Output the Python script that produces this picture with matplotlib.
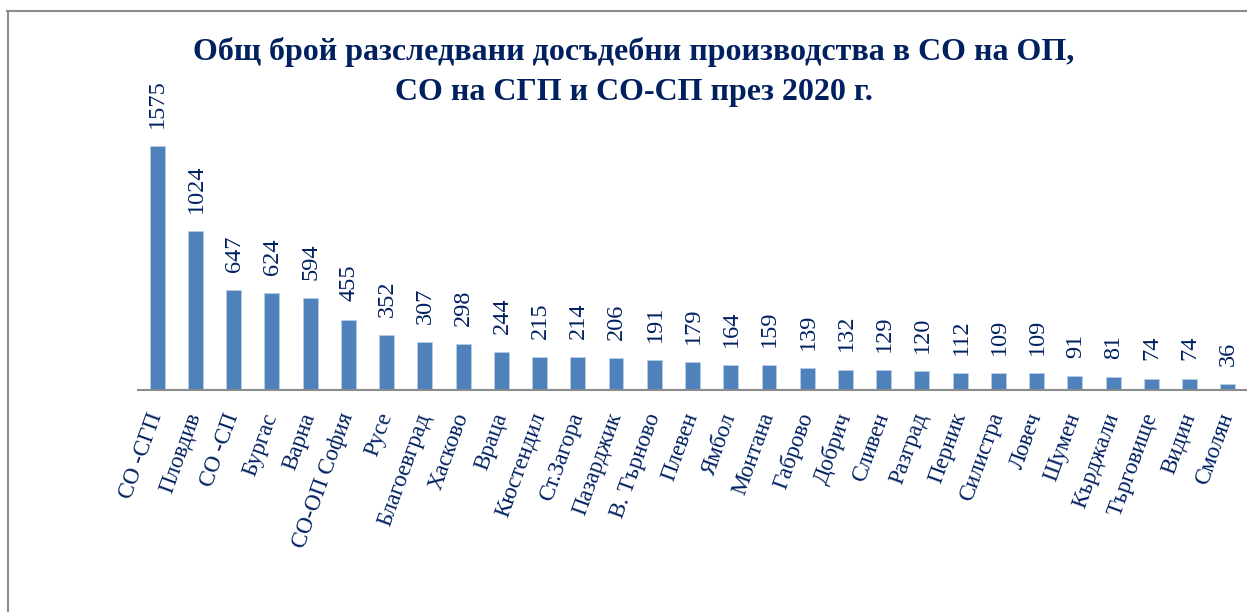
import matplotlib
matplotlib.use("Agg")
import matplotlib.pyplot as plt
from matplotlib.lines import Line2D

categories = ['СО -СГП', 'Пловдив', 'СО -СП', 'Бургас', 'Варна', 'СО-ОП София', 'Русе',
              'Благоевград', 'Хасково', 'Враца', 'Кюстендил', 'Ст.Загора', 'Пазарджик',
              'В. Търново', 'Плевен', 'Ямбол', 'Монтана', 'Габрово', 'Добрич', 'Сливен',
              'Разград', 'Перник', 'Силистра', 'Ловеч', 'Шумен', 'Кърджали', 'Търговище',
              'Видин', 'Смолян']
values = [1575, 1024, 647, 624, 594, 455, 352, 307, 298, 244, 215, 214, 206, 191, 179,
          164, 159, 139, 132, 129, 120, 112, 109, 109, 91, 81, 74, 74, 36]
title_lines = ['Общ брой разследвани досъдебни производства в СО на ОП,',
               'СО на СГП и СО-СП през 2020 г.']

NAVY = '#002060'
BAR = '#4f81bd'
GRAY = '#8c8c8c'
FONT = ['Liberation Serif', 'DejaVu Serif']

W, H = 1247, 612
fig = plt.figure(figsize=(W / 100, H / 100), dpi=100)
fig.patch.set_facecolor('white')

left_px, right_px = 138, 1247
base_px, top_px = 390, 80.2
ax = fig.add_axes([left_px / W, (H - base_px) / H, (right_px - left_px) / W, (base_px - top_px) / H])
ax.set_facecolor('none')

x = list(range(len(categories)))
bars = ax.bar(x, values, width=0.39, color=BAR, edgecolor='#b9cde5', linewidth=0.6, zorder=2)
ax.set_xlim(-0.5, len(categories) - 0.5)
ax.set_ylim(0, 2000)

for xi, v in zip(x, values):
    ax.annotate(str(v), xy=(xi, v), xytext=(0.5, 13), textcoords='offset points',
                rotation=90, ha='center', va='bottom', fontsize=17.5, color=NAVY,
                family=FONT, annotation_clip=False)

for s in ['top', 'right', 'left']:
    ax.spines[s].set_visible(False)
ax.spines['bottom'].set_color(GRAY)
ax.spines['bottom'].set_linewidth(1.5)
ax.set_yticks([])
ax.set_xticks(x)
ax.set_xticklabels(categories, family=FONT, fontsize=16.5, color=NAVY)
ax.tick_params(axis='x', length=0, pad=17)
for lbl in ax.get_xticklabels():
    lbl.set_rotation(70)
    lbl.set_ha('right')
    lbl.set_va('center')
    lbl.set_rotation_mode('anchor')

fig.text(634 / W, 1 - 60 / H, title_lines[0], ha='center', va='baseline',
         fontsize=23, fontweight='bold', color=NAVY, family=FONT)
fig.text(634 / W, 1 - 100 / H, title_lines[1], ha='center', va='baseline',
         fontsize=23, fontweight='bold', color=NAVY, family=FONT)

# outer frame (left and top edges visible)
fig.add_artist(Line2D([7.5 / W, 7.5 / W], [0, 1 - 10.5 / H], transform=fig.transFigure,
                      color=GRAY, linewidth=1.5))
fig.add_artist(Line2D([6.8 / W, 1], [1 - 10.5 / H, 1 - 10.5 / H], transform=fig.transFigure,
                      color=GRAY, linewidth=1.5))

fig.savefig('out.png', dpi=100, facecolor='white')
